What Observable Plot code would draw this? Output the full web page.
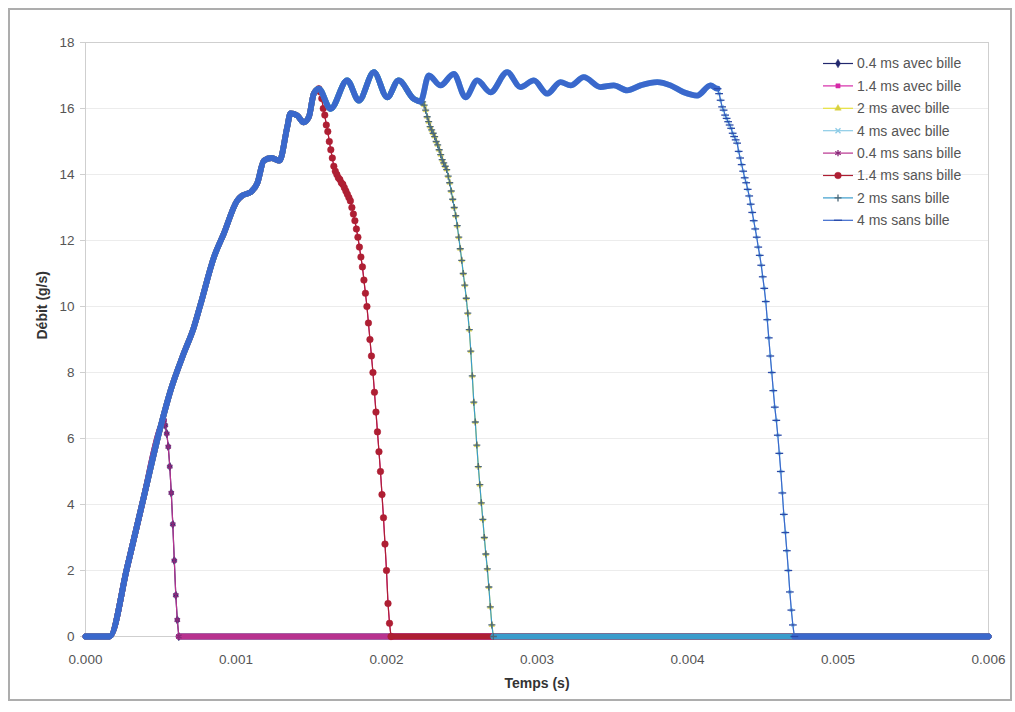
<!DOCTYPE html>
<html>
<head>
<meta charset="utf-8">
<script src="https://cdn.jsdelivr.net/npm/d3@7"></script>
<script src="https://cdn.jsdelivr.net/npm/@observablehq/plot@0.6"></script>
<style>
  body { margin: 0; background: #fff; font-family: "Liberation Sans", Arial, sans-serif; }
  #wrap { position: relative; width: 1015px; height: 712px; overflow: hidden; }
  #chart { position: absolute; left: 0; top: 0; }
  #legend { position: absolute; left: 815px; top: 52px; }
  #border { position: absolute; left: 8px; top: 8px; width: 1004px; height: 693px;
            border: 2px solid #adadad; box-sizing: border-box; pointer-events: none; }
</style>
</head>
<body>
<div id="wrap">
  <div id="chart"></div>
  <div id="legend"></div>
  <div id="border"></div>
</div>
<script>
// Injection flow rate vs. time, eight runs (four durations, with / without ball)
const seriesNames = [
  "0.4 ms avec bille", "1.4 ms avec bille", "2 ms avec bille", "4 ms avec bille",
  "0.4 ms sans bille", "1.4 ms sans bille", "2 ms sans bille", "4 ms sans bille"
];
const seriesDuration = ["0.4", "1.4", "2", "4", "0.4", "1.4", "2", "4"];

// Shared opening ramp and plateau (time in s, flow in g/s)
const riseTime = [0, 0.00016, 0.000277, 0.000387, 0.000498, 0.000565, 0.000653, 0.00072, 0.000764, 0.000853,
  0.000919, 0.001008, 0.001041, 0.001096, 0.001141, 0.001185, 0.001236, 0.001289, 0.00134, 0.001362,
  0.001407, 0.00145, 0.001484, 0.001517, 0.00155, 0.001628, 0.001739, 0.001816, 0.001916, 0.002005,
  0.00208, 0.002181, 0.002226, 0.002281, 0.002359, 0.002447, 0.002525, 0.002603, 0.002691, 0.002802,
  0.00289, 0.002979, 0.003068, 0.003156, 0.003223, 0.003311, 0.003422, 0.00351, 0.003599, 0.003688,
  0.003799, 0.003887, 0.003975, 0.004064, 0.004153, 0.004197];
const riseFlow = [0, 0, 2.10, 4.22, 6.34, 7.45, 8.58, 9.37, 10.06, 11.49,
  12.21, 13.21, 13.36, 13.46, 13.73, 14.42, 14.5, 14.42, 15.43, 15.85,
  15.79, 15.58, 15.74, 16.45, 16.6, 15.99, 16.85, 16.24, 17.10, 16.34,
  16.85, 16.29, 16.21, 17.0, 16.70, 17.05, 16.34, 16.85, 16.49, 17.10,
  16.65, 16.85, 16.45, 16.80, 16.70, 16.95, 16.65, 16.70, 16.55, 16.70,
  16.80, 16.70, 16.49, 16.39, 16.70, 16.60];

// Closing phase, sampled every 10 µs from the closing time of each duration
const sampleStep = 0.00001;
const fallStart = { "0.4": 0.00052, "1.4": 0.00155, "2": 0.00223, "4": 0.0042 };
const fall04 = [6.55, 6.4, 6.15, 5.75, 5.15, 4.35, 3.4, 2.3, 1.25, 0.5, 0];
const fall14 = [16.6, 16.5, 16.3, 16.0, 15.8, 15.5, 15.3, 15.0, 14.75, 14.5, 14.25, 14.1, 14.0, 13.9, 13.85,
  13.75, 13.7, 13.6, 13.5, 13.4, 13.3, 13.2, 13.0, 12.8, 12.6, 12.35, 12.1, 11.8, 11.5, 11.2, 10.8, 10.4,
  10.0, 9.5, 9.0, 8.5, 8.0, 7.4, 6.8, 6.2, 5.6, 5.0, 4.3, 3.6, 2.8, 2.0, 1.0, 0.4, 0];
const fall2 = [16.2, 16.2, 16.1, 15.95, 15.75, 15.6, 15.45, 15.35, 15.25, 15.15, 15.0, 14.9, 14.75, 14.6,
  14.45, 14.35, 14.25, 14.15, 13.95, 13.75, 13.5, 13.25, 13.0, 12.75, 12.45, 12.1, 11.75, 11.4, 11.0, 10.65,
  10.25, 9.8, 9.3, 8.65, 7.9, 7.1, 6.5, 5.8, 5.15, 4.6, 4.05, 3.55, 3.0, 2.5, 2.05, 1.5, 0.9, 0.35, 0];
const fall4 = [16.6, 16.45, 16.25, 16.05, 15.95, 15.8, 15.7, 15.6, 15.5, 15.4, 15.25, 15.15, 15.05, 14.95,
  14.7, 14.5, 14.3, 14.1, 13.9, 13.75, 13.55, 13.35, 13.1, 12.85, 12.6, 12.35, 12.1, 11.8, 11.55, 11.25,
  10.9, 10.55, 10.15, 9.6, 9.05, 8.5, 8.0, 7.45, 6.95, 6.55, 6.1, 5.55, 5.0, 4.35, 3.7, 3.15, 2.6, 2.0,
  1.35, 0.8, 0.35, 0];
const fallFlow = { "0.4": fall04, "1.4": fall14, "2": fall2, "4": fall4 };
const endTime = 0.006;

// Axis ticks
const xTicks = [0, 0.001, 0.002, 0.003, 0.004, 0.005, 0.006];
const yTicks = [0, 2, 4, 6, 8, 10, 12, 14, 16, 18];

// Styling per series
const seriesColors = ["#22286e", "#d62aa8", "#e8e23a", "#8ccbe6", "#b8338f", "#ae1f33", "#3a9ccc", "#3a68cc"];
const markerColors = ["#22286e", "#d62aa8", "#d8d040", "#8ccbe6", "#8a2a7a", "#ae1f33", "#4d6878", "#2a4aa8"];
const dash = { draw(ctx, size) { const w = Math.sqrt(size) * 0.95; ctx.moveTo(-w, 0); ctx.lineTo(w, 0); } };
const seriesSymbols = ["diamond", "square", "triangle", "times", "asterisk", "circle", "plus", dash];
const symbolFilled = [true, true, true, false, false, true, false, false];
const symbolRadius = [2.6, 2.4, 2.0, 1.6, 3.0, 3.3, 2.4, 2.3];

const marks = [
  Plot.gridY(yTicks, { stroke: "#ececec", strokeOpacity: 1 }),
  Plot.frame({ stroke: "#cfcfcf" }),
  Plot.axisY(yTicks, { tickSize: 5, tickPadding: 6, stroke: "#cfcfcf", fill: "#555", label: null, fontSize: 13.5 }),
  Plot.axisX(xTicks, { tickSize: 0, tickPadding: 18, tickFormat: d3.format(".3f"), fill: "#555", label: null, fontSize: 13.5 }),
  Plot.text(["Débit (g/s)"], { frameAnchor: "left", dx: -43, rotate: -90, fontWeight: "bold", fontSize: 14, fill: "#333" }),
  Plot.text(["Temps (s)"], { frameAnchor: "bottom", dy: 51, fontWeight: "bold", fontSize: 14, fill: "#333" })
];

seriesNames.forEach((name, i) => {
  const dur = seriesDuration[i];
  const start = fallStart[dur];
  const color = seriesColors[i];
  const rise = riseTime.map((t, j) => ({ t, v: riseFlow[j] })).filter(p => p.t < start - 1e-9);
  const fall = fallFlow[dur].map((v, j) => ({ t: start + j * sampleStep, v }));
  const band = [...rise, fall[0]];
  const tail = [fall[fall.length - 1], { t: endTime, v: 0 }];
  // dense markers on the slow parts read as a thick band
  marks.push(Plot.line(band, { x: "t", y: "v", stroke: color, strokeWidth: 5.8, curve: "monotone-x", strokeLinecap: "round", strokeLinejoin: "round" }));
  marks.push(Plot.line(tail, { x: "t", y: "v", stroke: color, strokeWidth: 6, strokeLinecap: "round" }));
  marks.push(Plot.line(fall, { x: "t", y: "v", stroke: color, strokeWidth: 1.2 }));
  marks.push(Plot.dot(fall, {
    x: "t", y: "v", symbol: seriesSymbols[i], r: symbolRadius[i],
    fill: symbolFilled[i] ? markerColors[i] : "none",
    stroke: markerColors[i], strokeWidth: symbolFilled[i] ? 0.5 : 1.3
  }));
});

const chart = Plot.plot({
  width: 1015, height: 712,
  marginLeft: 85, marginRight: 27, marginTop: 42, marginBottom: 76,
  x: { domain: [0, endTime] },
  y: { domain: [0, 18] },
  style: { fontFamily: "'Liberation Sans', Arial, sans-serif", fontSize: "13px", color: "#444", background: "#fff" },
  marks
});
document.getElementById("chart").appendChild(chart);

// Legend
const legend = d3.select("#legend").append("svg").attr("width", 195).attr("height", 190)
  .style("font-family", "'Liberation Sans', Arial, sans-serif").style("font-size", "14px");
seriesNames.forEach((name, i) => {
  const g = legend.append("g").attr("transform", `translate(0,${11.5 + i * 22.4})`);
  const color = seriesColors[i];
  g.append("line").attr("x1", 8).attr("x2", 38).attr("stroke", color).attr("stroke-width", 1.2);
  const sym = seriesSymbols[i];
  const type = typeof sym === "string"
    ? { diamond: d3.symbolDiamond, square: d3.symbolSquare, triangle: d3.symbolTriangle, times: d3.symbolTimes,
        asterisk: d3.symbolAsterisk, circle: d3.symbolCircle, plus: d3.symbolPlus }[sym]
    : sym;
  const r = Math.max(symbolRadius[i], 2.4);
  g.append("path").attr("transform", "translate(23,0)")
    .attr("d", d3.symbol(type, Math.PI * r * r)())
    .attr("fill", symbolFilled[i] ? markerColors[i] : "none")
    .attr("stroke", markerColors[i]).attr("stroke-width", symbolFilled[i] ? 0.5 : 1.3);
  g.append("text").attr("x", 42).attr("dy", "0.35em").attr("fill", "#555").text(name);
});
</script>
</body>
</html>
